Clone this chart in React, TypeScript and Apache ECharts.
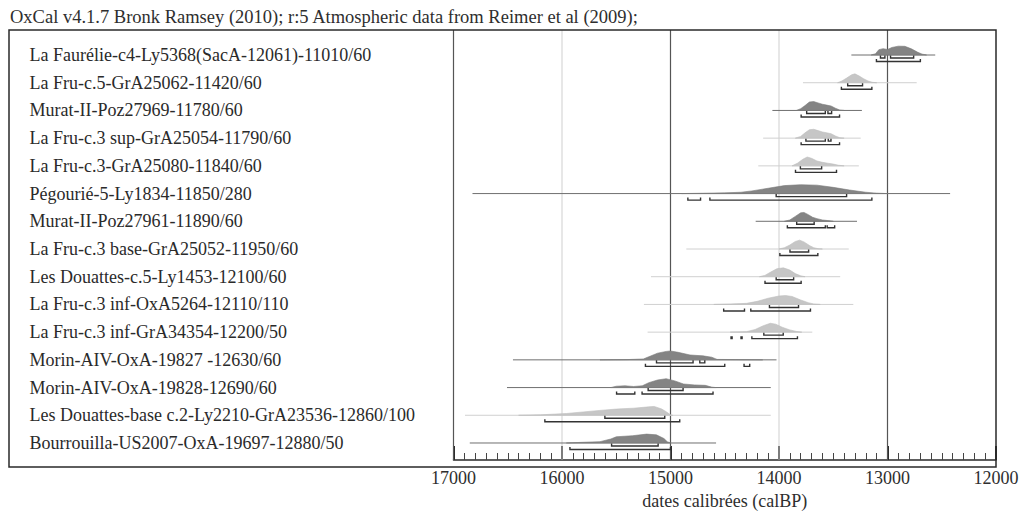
import { useEffect, useRef } from 'react';
import * as echarts from 'echarts';

const TITLE = 'OxCal v4.1.7 Bronk Ramsey (2010); r:5 Atmospheric data from Reimer et al (2009);';
const AXIS_NAME = 'dates calibrées (calBP)';

const LABELS = [
  'La Faurélie-c4-Ly5368(SacA-12061)-11010/60',
  'La Fru-c.5-GrA25062-11420/60',
  'Murat-II-Poz27969-11780/60',
  'La Fru-c.3 sup-GrA25054-11790/60',
  'La Fru-c.3-GrA25080-11840/60',
  'Pégourié-5-Ly1834-11850/280',
  'Murat-II-Poz27961-11890/60',
  'La Fru-c.3 base-GrA25052-11950/60',
  'Les Douattes-c.5-Ly1453-12100/60',
  'La Fru-c.3 inf-OxA5264-12110/110',
  'La Fru-c.3 inf-GrA34354-12200/50',
  'Morin-AIV-OxA-19827 -12630/60',
  'Morin-AIV-OxA-19828-12690/60',
  'Les Douattes-base c.2-Ly2210-GrA23536-12860/100',
  'Bourrouilla-US2007-OxA-19697-12880/50',
];

const SHADE = ['dark', 'light', 'dark', 'light', 'light', 'dark', 'dark', 'light', 'light', 'light', 'light', 'dark', 'dark', 'light', 'dark'];

const LINE_FROM = [13333, 13779, 14061, 14146, 14191, 16825, 14215, 14854, 15180, 15245, 15211, 16452, 16507, 16894, 16850];
const LINE_TO = [12560, 12731, 13236, 13247, 13264, 12423, 13281, 13357, 13436, 13315, 13693, 14023, 14076, 14076, 14580];

const DIST_YEARS = [
  [13150, 13110, 13080, 13040, 13000, 12960, 12900, 12840, 12780, 12720, 12680, 12640],
  [13460, 13420, 13380, 13330, 13300, 13260, 13220, 13180, 13140, 13100],
  [13840, 13800, 13760, 13720, 13680, 13640, 13600, 13560, 13520, 13480, 13440, 13400],
  [13850, 13800, 13760, 13720, 13680, 13640, 13600, 13560, 13520, 13480, 13440, 13400],
  [13880, 13830, 13780, 13740, 13700, 13650, 13600, 13550, 13500, 13450, 13400],
  [14900, 14700, 14500, 14350, 14250, 14100, 13950, 13800, 13650, 13500, 13350, 13200, 13100, 13000],
  [13950, 13900, 13850, 13800, 13770, 13730, 13690, 13650, 13600, 13550, 13500],
  [14000, 13950, 13900, 13850, 13810, 13770, 13720, 13680, 13640, 13600],
  [14180, 14130, 14080, 14020, 13960, 13900, 13850, 13800, 13760],
  [14600, 14450, 14300, 14200, 14100, 14000, 13940, 13880, 13800, 13730, 13680, 13620],
  [14450, 14300, 14220, 14150, 14080, 14030, 13970, 13900, 13840, 13790],
  [15650, 15400, 15250, 15200, 15120, 15040, 15000, 14930, 14820, 14700, 14620, 14570, 14400, 14150],
  [15550, 15500, 15420, 15340, 15260, 15200, 15120, 15040, 14960, 14880, 14780, 14680, 14620, 14580],
  [16400, 16200, 15960, 15650, 15500, 15340, 15200, 15150, 15080, 15040, 15000, 14980],
  [15960, 15800, 15650, 15550, 15500, 15350, 15220, 15130, 15060, 15030, 15000],
];

const DIST_DENS = [
  [0, 0.15, 0.6, 0.72, 0.62, 0.85, 1.0, 0.98, 0.7, 0.3, 0.1, 0],
  [0, 0.2, 0.5, 0.9, 1.0, 0.75, 0.45, 0.2, 0.05, 0],
  [0, 0.2, 0.55, 0.95, 1.0, 0.85, 0.7, 0.6, 0.5, 0.25, 0.05, 0],
  [0, 0.2, 0.6, 0.95, 1.0, 0.85, 0.7, 0.6, 0.5, 0.25, 0.05, 0],
  [0, 0.3, 0.75, 1.0, 0.85, 0.55, 0.4, 0.3, 0.2, 0.07, 0],
  [0, 0.04, 0.08, 0.15, 0.3, 0.6, 0.9, 1.0, 0.95, 0.7, 0.4, 0.15, 0.05, 0],
  [0, 0.15, 0.55, 0.95, 1.0, 0.75, 0.45, 0.3, 0.15, 0.08, 0],
  [0, 0.15, 0.45, 0.85, 1.0, 0.8, 0.4, 0.15, 0.03, 0],
  [0, 0.15, 0.5, 0.9, 1.0, 0.75, 0.35, 0.1, 0],
  [0, 0.05, 0.12, 0.35, 0.7, 0.95, 1.0, 0.9, 0.5, 0.2, 0.05, 0],
  [0, 0.05, 0.3, 0.7, 1.0, 0.9, 0.55, 0.25, 0.08, 0],
  [0, 0.03, 0.1, 0.35, 0.75, 0.95, 1.0, 0.85, 0.55, 0.45, 0.3, 0.05, 0.03, 0],
  [0, 0.15, 0.2, 0.12, 0.2, 0.55, 0.85, 1.0, 0.75, 0.4, 0.3, 0.25, 0.05, 0],
  [0, 0.05, 0.2, 0.55, 0.7, 0.8, 0.95, 1.0, 0.7, 0.4, 0.05, 0],
  [0, 0.08, 0.15, 0.45, 0.7, 0.82, 1.0, 0.92, 0.5, 0.15, 0],
];

const RANGE68 = [
  [[13065, 13024], [12972, 12759]],
  [[13367, 13230]],
  [[13745, 13573], [13549, 13515]],
  [[13752, 13573], [13546, 13521]],
  [[13803, 13607]],
  [[14026, 13377]],
  [[13837, 13676]],
  [[13899, 13727]],
  [[14026, 13865]],
  [[14088, 13820]],
  [[14140, 13961]],
  [[15129, 14792], [14730, 14684]],
  [[15206, 14884]],
  [[15605, 15053]],
  [[15543, 15114]],
];

const RANGE95 = [
  [[13102, 12697]],
  [[13425, 13144]],
  [[13796, 13442]],
  [[13796, 13442]],
  [[13848, 13470]],
  [[14840, 14723], [14637, 13144]],
  [[13923, 13573], [13556, 13487]],
  [[13992, 13642]],
  [[14129, 13796]],
  [[14510, 14318], [14260, 13710]],
  [[14442, 14432], [14350, 14340], [14250, 13830]],
  [[15231, 14500], [14322, 14270]],
  [[15497, 15329], [15262, 14608]],
  [[16158, 14915]],
  [[15927, 15000]],
];

const GRID_YEARS = [17000, 16000, 15000, 14000, 13000];
const X_MIN = 12000;
const X_MAX = 17000;

export default function App() {
  const ref = useRef<HTMLDivElement>(null);

  useEffect(() => {
    const chart = echarts.init(ref.current!, null, { renderer: 'svg' });
    const serif = "'Liberation Serif', 'Times New Roman', serif";
    const H = 0.32;

    const option: any = {
      animation: false,
      backgroundColor: '#ffffff',
      title: {
        text: TITLE,
        left: 10,
        top: 7,
        padding: 0,
        textStyle: { fontFamily: serif, fontSize: 18.5, fontWeight: 'normal', color: '#2e2e2e' },
      },
      grid: [
        { left: 453.5, right: 29, top: 27.3, height: 443.4 },
        { left: 453.5, right: 29, top: 30, bottom: 48 },
      ],
      xAxis: [
        { gridIndex: 0, type: 'value', min: X_MIN, max: X_MAX, inverse: true, show: false },
        {
          gridIndex: 1,
          type: 'value',
          min: X_MIN,
          max: X_MAX,
          interval: 1000,
          inverse: true,
          axisLine: { show: true, lineStyle: { color: '#2a2a2a', width: 1.5 } },
          axisTick: { show: true, inside: true, length: 14, lineStyle: { color: '#2a2a2a', width: 2 } },
          minorTick: { show: true, splitNumber: 10, length: 7, lineStyle: { color: '#444', width: 1 } },
          axisLabel: {
            fontFamily: serif,
            fontSize: 18,
            color: '#2e2e2e',
            margin: 9,
            formatter: (v: number) => String(v),
          },
          splitLine: { show: false },
          name: AXIS_NAME,
          nameLocation: 'middle',
          nameGap: 32,
          nameTextStyle: { fontFamily: serif, fontSize: 18, color: '#2e2e2e' },
        },
      ],
      yAxis: [
        {
          gridIndex: 0,
          type: 'value',
          min: -1,
          max: 15,
          interval: 1,
          inverse: true,
          axisLine: { show: false },
          axisTick: { show: false },
          splitLine: { show: false },
          axisLabel: {
            align: 'left',
            margin: 424,
            fontFamily: serif,
            fontSize: 18,
            color: '#2a2a2a',
            formatter: (v: number) => (LABELS[v] !== undefined ? LABELS[v] : ''),
          },
        },
        { gridIndex: 1, type: 'value', min: 0, max: 1, show: false },
      ],
      graphic: [
        {
          type: 'rect',
          z: 100,
          silent: true,
          shape: { x: 9, y: 30, width: 987, height: 437 },
          style: { fill: 'none', stroke: '#2a2a2a', lineWidth: 1.5 },
        },
      ],
      series: [
        {
          type: 'custom',
          xAxisIndex: 1,
          yAxisIndex: 1,
          z: 1,
          silent: true,
          data: GRID_YEARS.map((y) => [y, 0]),
          renderItem: (params: any, api: any) => {
            const yr = GRID_YEARS[params.dataIndex];
            const a = api.coord([yr, 0]);
            const b = api.coord([yr, 1]);
            const strong = (yr / 1000) % 2 === 1;
            return {
              type: 'line',
              shape: { x1: a[0], y1: a[1], x2: b[0], y2: b[1] },
              style: { stroke: strong ? '#555' : '#cfcfcf', lineWidth: strong ? 1.2 : 1 },
            };
          },
        },
        {
          type: 'custom',
          xAxisIndex: 0,
          yAxisIndex: 0,
          z: 3,
          silent: true,
          data: LABELS.map((_, i) => [LINE_FROM[i], i]),
          renderItem: (params: any, api: any) => {
            const i = params.dataIndex;
            const dark = SHADE[i] === 'dark';
            const children: any[] = [];
            const a = api.coord([LINE_FROM[i], i]);
            const b = api.coord([LINE_TO[i], i]);
            children.push({
              type: 'line',
              shape: { x1: a[0], y1: a[1], x2: b[0], y2: b[1] },
              style: { stroke: dark ? '#6f6f6f' : '#d0d0d0', lineWidth: 1 },
            });
            const pts = DIST_YEARS[i].map((yr, k) => api.coord([yr, i - DIST_DENS[i][k] * H]));
            children.push({
              type: 'polygon',
              shape: { points: pts },
              style: { fill: dark ? '#848484' : '#c6c6c6', stroke: dark ? '#7a7a7a' : '#bdbdbd', lineWidth: 0.6 },
            });
            const bracket = (r: number[], off: number) => {
              const p = api.coord([r[0], i]);
              const q = api.coord([r[1], i]);
              const y = p[1] + off;
              return {
                type: 'polyline',
                shape: { points: [[p[0], y - 2.5], [p[0], y], [q[0], y], [q[0], y - 2.5]] },
                style: { stroke: '#333', lineWidth: 1.4, fill: 'none' },
              };
            };
            RANGE68[i].forEach((r) => children.push(bracket(r, 3)));
            RANGE95[i].forEach((r) => children.push(bracket(r, 6.5)));
            return { type: 'group', children };
          },
        },
      ],
    };

    chart.setOption(option);
    return () => chart.dispose();
  }, []);

  return <div ref={ref} style={{ position: 'absolute', left: 0, top: 0, width: 1025, height: 515 }} />;
}
